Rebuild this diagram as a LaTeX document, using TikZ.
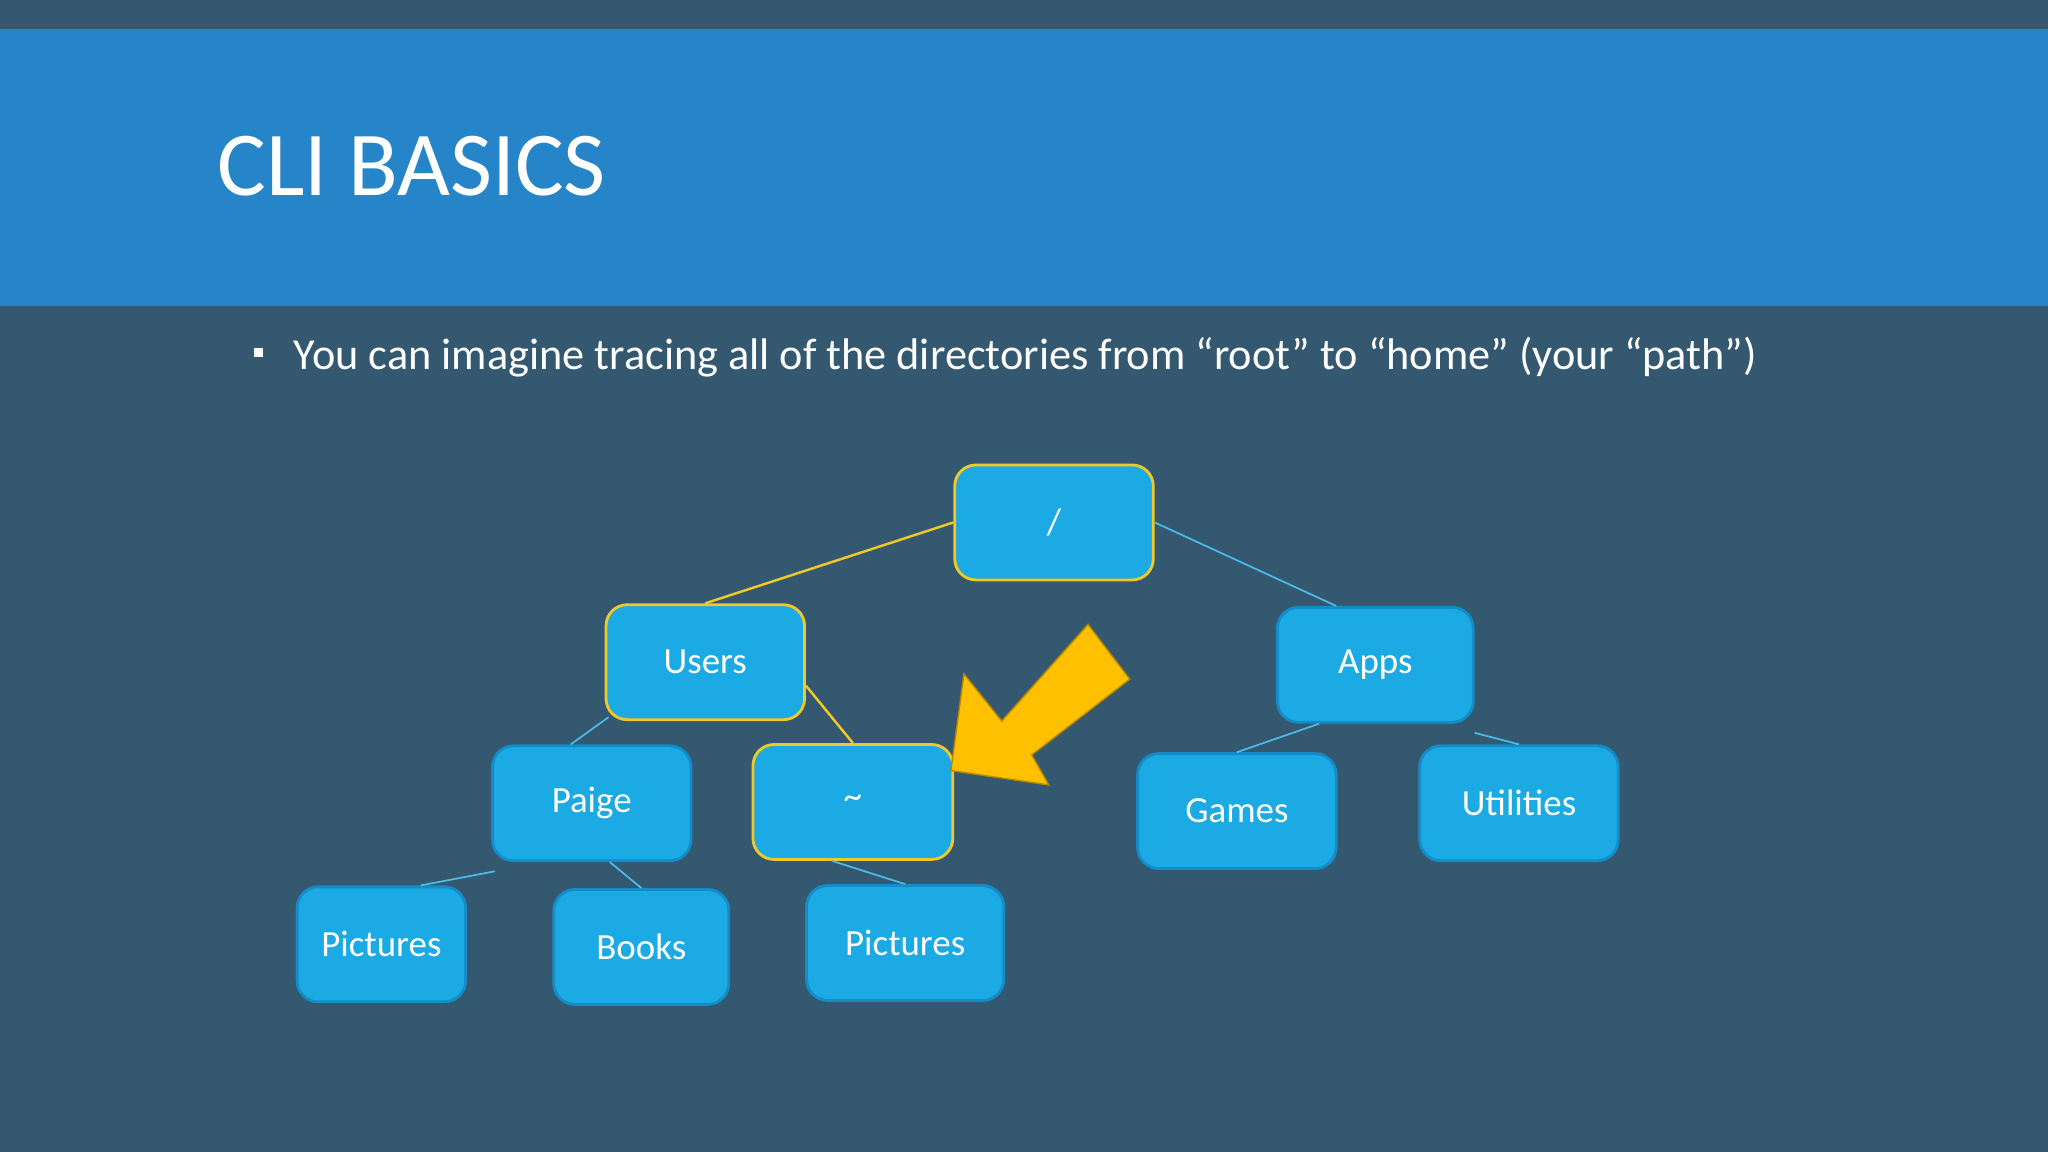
\documentclass[tikz,border=0pt]{standalone}
\usepackage{fontspec}
\setmainfont{Carlito}
\definecolor{bg}{RGB}{52,88,112}
\definecolor{banner}{RGB}{38,132,200}
\definecolor{boxfill}{RGB}{27,170,227}
\definecolor{boxedge}{RGB}{20,140,200}
\definecolor{hl}{RGB}{240,200,40}
\definecolor{arrowc}{RGB}{255,192,0}
\begin{document}
\begin{tikzpicture}[x=0.01306cm,y=-0.01306cm,
  dirbox/.style={draw=boxedge,fill=boxfill,rounded corners=6pt,line width=0.8pt,text=white,font=\fontsize{10.5pt}{12pt}\selectfont},
  hlbox/.style={dirbox,draw=hl},
  bl/.style={draw=boxfill!80!white,line width=0.5pt},
  yl/.style={draw=hl,line width=0.7pt}]
\fill[bg] (0,0) rectangle (1568,882);
\useasboundingbox (0,0) rectangle (1568,882);
\fill[banner] (0,22) rectangle (1568,234);
\node[anchor=base west,text=white,font=\fontsize{26pt}{30pt}\selectfont,inner sep=0] (title) at (166,150) {CLI BASICS};
\node[anchor=base west,text=white,font=\fontsize{12.6pt}{15pt}\selectfont,inner sep=0] (bullet) at (194,283) {\raisebox{0.6ex}{\rule{0.2em}{0.2em}}\hspace{0.7em}You can imagine tracing all of the directories from “root” to “home” (your “path”)};
\newcommand{\dbox}[5]{\node[#1,minimum width=#4*0.01306cm,minimum height=88*0.01306cm,inner sep=0] (#2) at (#3) {#5};}
\dbox{hlbox}{root}{807,400}{152}{/}
\dbox{hlbox}{users}{540,507}{152}{Users}
\dbox{dirbox}{apps}{1053,509}{150}{Apps}
\dbox{dirbox}{paige}{453,615}{152}{Paige}
\dbox{hlbox}{home}{653,614}{153}{\raisebox{-0.5ex}{\textasciitilde}}
\dbox{dirbox}{games}{947,621}{152}{Games}
\dbox{dirbox}{util}{1163,615}{152}{Utilities}
\dbox{dirbox}{pic1}{292,723}{129}{Pictures}
\dbox{dirbox}{books}{491,725}{134}{Books}
\dbox{dirbox}{pic2}{693,722}{151}{Pictures}
\draw[yl] (root.west) -- (users.north);
\draw[bl] (root.east) -- ([xshift=-30*0.01306cm]apps.north);
\draw[yl] ([yshift=-18*0.01306cm]users.east) -- (home.north);
\draw[bl] ([xshift=3*0.01306cm,yshift=3*0.01306cm]users.south west) -- ([xshift=-16*0.01306cm]paige.north);
\draw[bl] ([xshift=-43*0.01306cm]apps.south) -- (games.north);
\draw[bl] ([yshift=-7*0.01306cm]apps.south east) -- (util.north);
\draw[bl] ([xshift=3*0.01306cm,yshift=-7*0.01306cm]paige.south west) -- ([xshift=30*0.01306cm]pic1.north);
\draw[bl] ([xshift=14*0.01306cm]paige.south) -- (books.north);
\draw[bl] ([xshift=-16*0.01306cm]home.south) -- (pic2.north);
\filldraw[fill=arrowc,draw=arrowc!70!black,line width=0.4pt]
 (728,590) -- (738,516) -- (767,552) -- (833,478) -- (865,520) -- (790,578) -- (803,601) -- cycle;
\end{tikzpicture}
\end{document}
